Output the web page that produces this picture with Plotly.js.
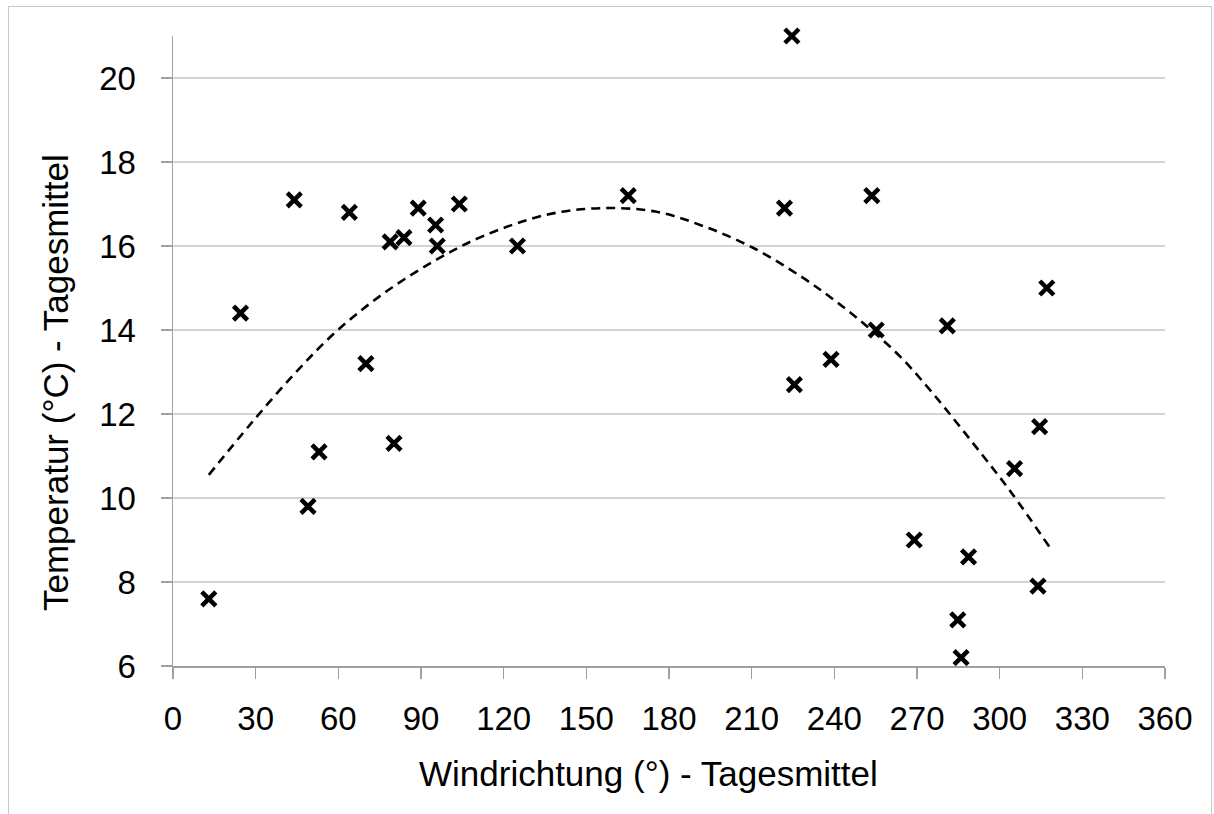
<!DOCTYPE html>
<html>
<head>
<meta charset="utf-8">
<script src="https://cdn.plot.ly/plotly-3.0.1.min.js"></script>
<style>
  html, body { margin: 0; padding: 0; background: #fff; }
  #frame { position: absolute; left: 8px; top: 6px; width: 1204px; height: 820px; border: 1.5px solid #c8c8c8; box-sizing: border-box; }
  #chart { position: absolute; left: 0; top: 0; width: 1214px; height: 814px; }
</style>
</head>
<body>
<div id="frame"></div>
<div id="chart"></div>
<script>
// Measured daily means: wind direction (deg) and temperature (°C)
const windDir = [13, 24.5, 44, 49, 53, 64, 70, 78.8, 80.2, 83.8, 89, 95.3, 95.9, 103.9, 125,
                 165.2, 224.6, 221.9, 225.5, 238.8, 253.6, 255.2, 269, 281, 284.8, 286, 288.7,
                 305.4, 313.9, 314.5, 317.1];
const temperature = [7.6, 14.4, 17.1, 9.8, 11.1, 16.8, 13.2, 16.1, 11.3, 16.2, 16.9, 16.5, 16.0, 17.0, 16.0,
                     17.2, 21.0, 16.9, 12.7, 13.3, 17.2, 14.0, 9.0, 14.1, 7.1, 6.2, 8.6,
                     10.7, 7.9, 11.7, 15.0];
// Polynomial trend line
const trendX = [13, 28, 44, 59, 76, 95, 113, 136, 155, 175, 193, 211, 228, 240, 252, 264, 275, 294, 304, 318];
const trendY = [10.55, 11.75, 12.95, 13.95, 14.85, 15.65, 16.25, 16.75, 16.9, 16.82, 16.46, 15.94, 15.27, 14.71, 14.08, 13.36, 12.55, 11.0, 10.15, 8.84];
const xTicks = [0, 30, 60, 90, 120, 150, 180, 210, 240, 270, 300, 330, 360];
const yTicks = [6, 8, 10, 12, 14, 16, 18, 20];
const xTitle = 'Windrichtung (°) - Tagesmittel';
const yTitle = 'Temperatur (°C) - Tagesmittel';

const font = "Liberation Sans, Arial, sans-serif";

const traces = [
  {
    x: trendX, y: trendY, type: 'scatter', mode: 'lines',
    line: { color: '#000', width: 2.6, dash: '9px,6px', shape: 'spline' },
    hoverinfo: 'skip', showlegend: false
  },
  {
    x: windDir, y: temperature, type: 'scatter', mode: 'markers', cliponaxis: false,
    marker: { symbol: 'x-thin', size: 14, color: '#000', line: { color: '#000', width: 4.5 } },
    showlegend: false
  }
];

const axisColor = '#a0a0a0';
const layout = {
  width: 1214, height: 814,
  margin: { l: 173, r: 49, t: 36, b: 148 },
  paper_bgcolor: 'rgba(0,0,0,0)', plot_bgcolor: 'rgba(0,0,0,0)',
  font: { family: font, color: '#000', size: 33 },
  showlegend: false,
  xaxis: {
    range: [0, 360], tickvals: xTicks, ticktext: xTicks.map(String),
    showgrid: false, zeroline: false,
    showline: true, linecolor: axisColor, linewidth: 1.5,
    ticks: 'outside', ticklen: 11, tickcolor: axisColor, tickwidth: 1.5,
    tickfont: { family: font, size: 33, color: '#000' },
    ticklabelstandoff: 12
  },
  yaxis: {
    range: [6, 21], tickvals: yTicks, ticktext: yTicks.map(String),
    showgrid: true, gridcolor: '#d4d4d4', gridwidth: 1.5, zeroline: false,
    showline: true, linecolor: axisColor, linewidth: 1.5,
    ticks: 'outside', ticklen: 11, tickcolor: axisColor, tickwidth: 1.5,
    tickfont: { family: font, size: 33, color: '#000' },
    ticklabelstandoff: 18
  },
  annotations: [
    { text: xTitle, xref: 'paper', yref: 'paper', x: (648 - 173) / 992, y: -(773 - 666) / 630,
      xanchor: 'center', yanchor: 'middle', showarrow: false,
      font: { family: font, size: 35, color: '#000' } },
    { text: yTitle, xref: 'paper', yref: 'paper', x: -(173 - 55) / 992, y: (666 - 383) / 630,
      xanchor: 'center', yanchor: 'middle', showarrow: false, textangle: -90,
      font: { family: font, size: 35, color: '#000' } }
  ]
};

Plotly.newPlot('chart', traces, layout, { displayModeBar: false, staticPlot: true });
</script>
</body>
</html>
